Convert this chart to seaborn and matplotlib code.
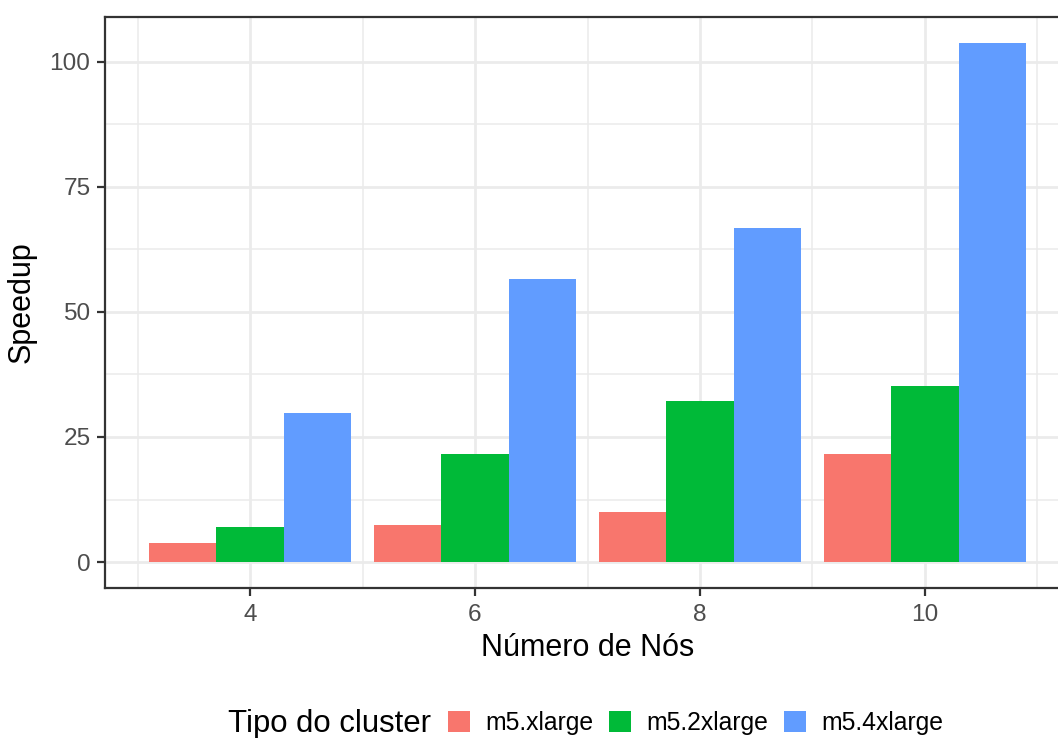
import matplotlib
matplotlib.use("Agg")
import matplotlib.pyplot as plt
from matplotlib.patches import Patch
from matplotlib.ticker import FixedLocator
import seaborn as sns
import pandas as pd

# Speedup per cluster type and number of nodes
nos = [4, 6, 8, 10]
tipos = ["m5.xlarge", "m5.2xlarge", "m5.4xlarge"]
speedup_m5_xlarge = [3.8, 7.5, 10.0, 21.7]
speedup_m5_2xlarge = [7.0, 21.7, 32.1, 35.1]
speedup_m5_4xlarge = [29.7, 56.6, 66.7, 103.8]
cores = ["#F8766D", "#00BA38", "#619CFF"]

df = pd.DataFrame({
    "nos": nos * 3,
    "tipo": [t for t in tipos for _ in nos],
    "speedup": speedup_m5_xlarge + speedup_m5_2xlarge + speedup_m5_4xlarge,
})

sns.set_theme(style="white")
plt.rcParams["font.family"] = ["Liberation Sans", "DejaVu Sans"]

W, H = 1058, 738
fig = plt.figure(figsize=(W / 100, H / 100), dpi=100)
# panel extends past the right edge of the canvas
ax = fig.add_axes([105 / W, 150 / H, (1070 - 105) / W, (588 - 17) / H])

sns.barplot(data=df, x="nos", y="speedup", hue="tipo", hue_order=tipos,
            palette=cores, saturation=1, native_scale=True, width=0.9,
            errorbar=None, linewidth=0, legend=False, ax=ax, zorder=3)

ax.set_xlim(2.71, 11.29)
ax.set_ylim(-5.19, 108.97)
ax.xaxis.set_major_locator(FixedLocator(nos))
ax.xaxis.set_minor_locator(FixedLocator([3, 5, 7, 9, 11]))
ax.yaxis.set_major_locator(FixedLocator([0, 25, 50, 75, 100]))
ax.yaxis.set_minor_locator(FixedLocator([12.5, 37.5, 62.5, 87.5]))
ax.set_xticklabels([str(n) for n in nos])
ax.set_yticklabels(["0", "25", "50", "75", "100"])

ax.grid(which="major", color="#EBEBEB", linewidth=2.0, zorder=0)
ax.grid(which="minor", color="#EBEBEB", linewidth=1.1, zorder=0)
ax.set_axisbelow(True)

for s in ax.spines.values():
    s.set_color("#333333")
    s.set_linewidth(1.6)

ax.tick_params(which="major", length=5.5, width=1.6, color="#333333",
               labelsize=17.6, labelcolor="#4D4D4D", pad=6,
               bottom=True, left=True)
ax.tick_params(which="minor", length=0)
ax.tick_params(axis="y", pad=5)

ax.set_xlabel("Número de Nós", fontsize=22, color="black", labelpad=5)
ax.set_ylabel("Speedup", fontsize=22, color="black", labelpad=9)

# legend at the bottom, title to the left of the keys
fig.text(228 / W, (H - 724) / H, "Tipo do cluster", fontsize=22.4,
         ha="left", va="center", color="black")
handles = [Patch(facecolor=c, edgecolor="none", label=t) for c, t in zip(cores, tipos)]
leg = fig.legend(handles=handles, ncol=3, loc="center left",
                 bbox_to_anchor=(448 / W, (H - 723) / H), frameon=False,
                 fontsize=17.8, handlelength=0.9, handleheight=0.9,
                 handletextpad=0.62, columnspacing=0.62, borderpad=0,
                 borderaxespad=0)
for t in leg.get_texts():
    t.set_color("black")

fig.savefig("out.png", dpi=100)
